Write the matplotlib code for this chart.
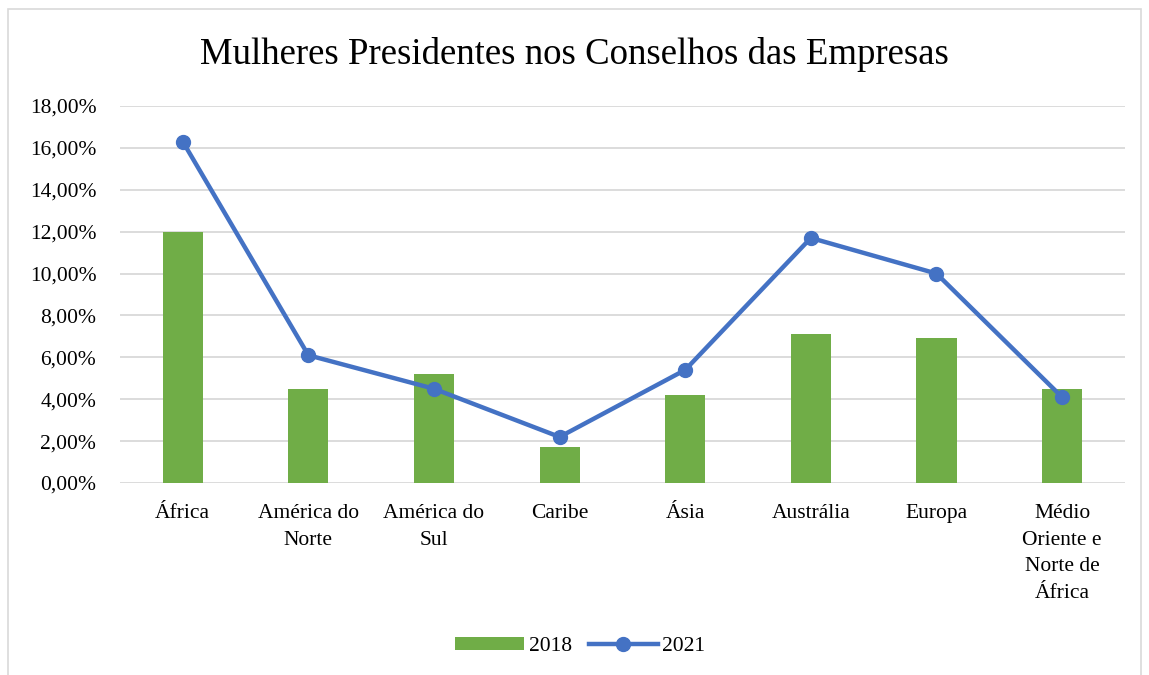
import matplotlib.pyplot as plt
from matplotlib.patches import Rectangle
import numpy as np

# dados
regioes = ["África", "América do\nNorte", "América do\nSul", "Caribe", "Ásia",
           "Austrália", "Europa", "Médio\nOriente e\nNorte de\nÁfrica"]
valores_2018 = [12.0, 4.5, 5.2, 1.7, 4.2, 7.1, 6.9, 4.5]
valores_2021 = [16.3, 6.1, 4.5, 2.2, 5.4, 11.7, 10.0, 4.1]
ticks_y = [0, 2, 4, 6, 8, 10, 12, 14, 16, 18]

plt.rcParams['font.family'] = ['Liberation Serif', 'DejaVu Serif']

fig = plt.figure(figsize=(11.49, 6.75), dpi=100)
ax = fig.add_axes([0.1044, 0.2844, 0.8746, 0.5586])

x = np.arange(len(regioes))
barras = ax.bar(x, valores_2018, width=0.32, color='#70ad47', label='2018', zorder=2)
linha, = ax.plot(x, valores_2021, color='#4472c4', linewidth=3.2, marker='o',
                 markersize=10, label='2021', zorder=3)

ax.set_xlim(-0.5, len(regioes) - 0.5)
ax.set_ylim(0, 18)
ax.set_yticks(ticks_y)
ax.set_yticklabels([f"{v:.2f}%".replace('.', ',') for v in ticks_y], fontsize=15.5)
ax.set_xticks(x)
ax.set_xticklabels(regioes, fontsize=15.5, va='top', linespacing=1.55)
ax.tick_params(axis='y', length=0, pad=17)
ax.tick_params(axis='x', length=0, pad=15)
ax.grid(axis='y', color='#d9d9d9', linewidth=1.3, zorder=0)
for s in ax.spines.values():
    s.set_visible(False)

fig.text(0.5, 0.92, "Mulheres Presidentes nos Conselhos das Empresas",
         ha='center', va='center', fontsize=26.5)

fig.legend([barras, linha], ['2018', '2021'], loc='center',
           bbox_to_anchor=(0.505, 0.042), ncol=2, frameon=False,
           fontsize=15.5, handlelength=3.2, handleheight=0.5,
           columnspacing=0.8, handletextpad=0.2)

# borda da área do gráfico
fig.patches.append(Rectangle((8 / 1149, -0.01), 1133 / 1149, 1 - 9 / 675 + 0.01,
                             transform=fig.transFigure, fill=False,
                             edgecolor='#d9d9d9', linewidth=1.2))

fig.savefig('out.png', dpi=100)
